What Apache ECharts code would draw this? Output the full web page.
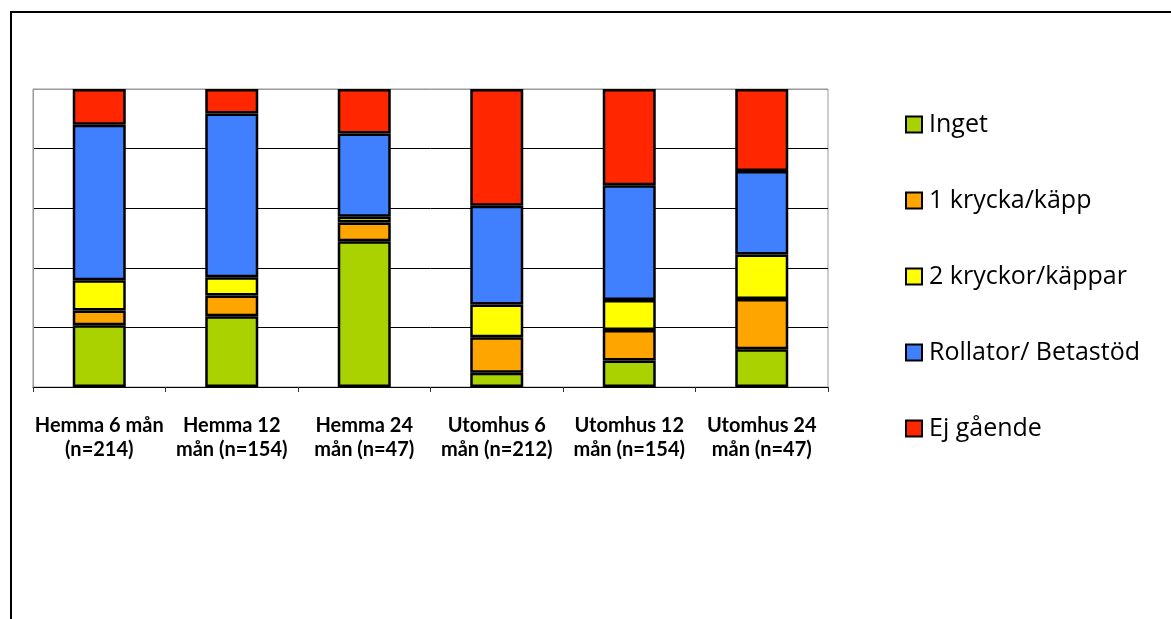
<!DOCTYPE html>
<html>
<head>
<meta charset="utf-8">
<script src="https://cdn.jsdelivr.net/npm/echarts@6/dist/echarts.min.js"></script>
<style>
  html, body { margin: 0; padding: 0; background: #fff; }
  #chart { width: 1171px; height: 619px; }
</style>
</head>
<body>
<div id="chart"></div>
<script>
// Walking aid use (%), 100% stacked per group
const categories = [
  'Hemma 6 mån\n(n=214)',
  'Hemma 12\nmån (n=154)',
  'Hemma 24\nmån (n=47)',
  'Utomhus 6\nmån (n=212)',
  'Utomhus 12\nmån (n=154)',
  'Utomhus 24\nmån (n=47)'
];
const seriesNames = ['Inget', '1 krycka/käpp', '2 kryckor/käppar', 'Rollator/ Betastöd', 'Ej gående'];
const inget     = [20.7, 23.7, 48.9, 4.8, 8.9, 12.7];
const enKrycka  = [5.0, 7.0, 6.3, 11.9, 10.2, 16.8];
const tvaKryckor = [10.1, 6.1, 1.9, 11.0, 10.1, 15.0];
const rollator  = [52.2, 55.0, 28.0, 33.1, 38.5, 28.0];
const ejGaende  = [12.0, 8.2, 14.9, 39.2, 32.3, 27.5];
const yTicks = [0, 20, 40, 60, 80, 100];

const colors = ['#AAD200', '#FFA500', '#FFFF00', '#4080FF', '#FF2600'];
const values = [inget, enKrycka, tvaKryckor, rollator, ejGaende];

const chart = echarts.init(document.getElementById('chart'), null, { renderer: 'canvas' });

const series = seriesNames.map((name, i) => ({
  name: name,
  type: 'bar',
  stack: 'total',
  barWidth: '40%',
  data: values[i],
  itemStyle: { color: colors[i], borderColor: '#000', borderWidth: 2.5 },
  emphasis: { disabled: true }
}));

chart.setOption({
  animation: false,
  backgroundColor: '#fff',
  textStyle: { fontFamily: 'Lato' },
  grid: {
    left: 33, top: 89, width: 795, height: 298,
    show: true, borderColor: '#999', borderWidth: 1, backgroundColor: 'transparent'
  },
  xAxis: {
    type: 'category',
    data: categories,
    boundaryGap: true,
    axisLine: { lineStyle: { color: '#000', width: 1 } },
    axisTick: { show: true, alignWithLabel: false, length: 5, lineStyle: { color: '#333' } },
    axisLabel: {
      interval: 0,
      margin: 27,
      color: '#000',
      fontFamily: 'Lato',
      fontWeight: 'bold',
      fontSize: 20,
      lineHeight: 24,
      align: 'center'
    }
  },
  yAxis: {
    type: 'value',
    min: yTicks[0],
    max: yTicks[yTicks.length - 1],
    interval: 20,
    axisLine: { show: true, lineStyle: { color: '#999' } },
    axisTick: { show: false },
    axisLabel: { show: false },
    splitLine: {
      show: true,
      lineStyle: { color: ['#000', '#000', '#000', '#000', '#000', '#999'], width: 1 }
    }
  },
  legend: {
    orient: 'vertical',
    left: 905,
    top: 112,
    padding: 0,
    itemWidth: 16,
    itemHeight: 16,
    itemGap: 51,
    icon: 'rect',
    itemStyle: { borderColor: '#000', borderWidth: 2 },
    textStyle: { fontFamily: 'Open Sans', fontSize: 25, lineHeight: 24, color: '#000', padding: [0, 0, 0, 2] },
    data: seriesNames
  },
  graphic: [{
    type: 'polyline',
    shape: { points: [[11, 640], [11, 12], [1190, 12]] },
    style: { stroke: '#000', lineWidth: 2, fill: null },
    silent: true
  }],
  series: series
});
</script>
</body>
</html>
